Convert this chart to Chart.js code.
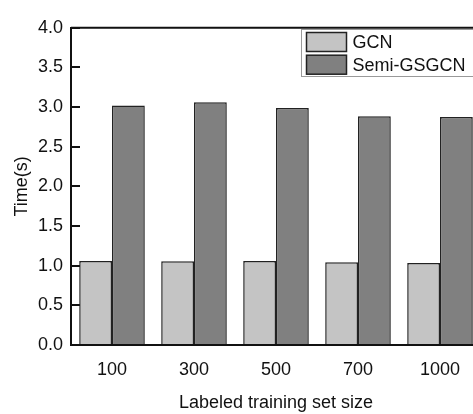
<!DOCTYPE html>
<html>
<head>
<meta charset="utf-8">
<script src="https://cdn.jsdelivr.net/npm/chart.js@4/dist/chart.umd.min.js"></script>
<style>
  html, body { margin: 0; padding: 0; background: #fff; overflow: hidden; }
  #wrap { width: 473px; height: 414px; overflow: hidden; }
</style>
</head>
<body>
<div id="wrap"><canvas id="grafico" width="490" height="414"></canvas></div>
<script>
// ── DATOS ─────────────────────────────────────────
const categorias = ['100', '300', '500', '700', '1000'];
const tiempoGCN  = [1.06, 1.055, 1.06, 1.045, 1.035];
const tiempoSemi = [3.02, 3.06, 2.99, 2.885, 2.875];
const ejeYMin = 0, ejeYMax = 4, ejeYPaso = 0.5;

const FUENTE = 'Arial, "Liberation Sans", sans-serif';

// ── MARCO (borde superior y derecho) ──────────────
const marco = {
  id: 'marco',
  afterDatasetsDraw(chart) {
    const { ctx, chartArea: a } = chart;
    ctx.save();
    ctx.strokeStyle = '#111';
    ctx.lineWidth = 2;
    ctx.beginPath();
    ctx.moveTo(a.left, a.top);
    ctx.lineTo(a.right, a.top);
    ctx.lineTo(a.right, a.bottom);
    ctx.stroke();
    ctx.restore();
  }
};

// ── LEYENDA CON RECUADRO ──────────────────────────
const leyenda = {
  id: 'leyenda',
  afterDraw(chart) {
    const { ctx } = chart;
    const x0 = 301.5, y0 = 29.5, filaH = 22.7, sw = 40, sh = 19;
    ctx.save();
    ctx.font = '18px ' + FUENTE;
    const anchos = chart.data.datasets.map(d => ctx.measureText(d.label).width);
    const w = 51 + Math.max(...anchos) + 10;
    ctx.fillStyle = '#fff';
    ctx.fillRect(x0, y0, w, 47);
    ctx.strokeStyle = '#9a9a9a';
    ctx.lineWidth = 1;
    ctx.strokeRect(x0, y0, w, 47);
    chart.data.datasets.forEach((d, i) => {
      const y = y0 + 3 + i * filaH;
      ctx.fillStyle = d.backgroundColor;
      ctx.fillRect(x0 + 5, y, sw, sh);
      ctx.strokeStyle = '#222';
      ctx.lineWidth = 1.5;
      ctx.strokeRect(x0 + 5, y, sw, sh);
      ctx.fillStyle = '#111';
      ctx.textBaseline = 'middle';
      ctx.fillText(d.label, x0 + 51, y + sh / 2 + 1);
    });
    ctx.restore();
  }
};

new Chart(document.getElementById('grafico').getContext('2d'), {
  type: 'bar',
  data: {
    labels: categorias,
    datasets: [
      { label: 'GCN', data: tiempoGCN, backgroundColor: '#c4c4c4', borderColor: '#222', borderWidth: 1.5,
        categoryPercentage: 0.8, barPercentage: 1 },
      { label: 'Semi-GSGCN', data: tiempoSemi, backgroundColor: '#808080', borderColor: '#222', borderWidth: 1.5,
        categoryPercentage: 0.8, barPercentage: 1 }
    ]
  },
  options: {
    responsive: false,
    animation: false,
    layout: { padding: { top: 16, right: 9, left: 0, bottom: 0 } },
    plugins: { legend: { display: false }, tooltip: { enabled: false } },
    scales: {
      x: {
        grid: { display: false },
        border: { display: true, color: '#111', width: 2 },
        ticks: { color: '#111', padding: 6, font: { family: FUENTE, size: 18 } },
        title: { display: true, text: 'Labeled training set size', color: '#111',
                 padding: { top: 0, bottom: 0 }, font: { family: FUENTE, size: 18 } },
        afterFit(s) { s.height = 69; }
      },
      y: {
        min: ejeYMin, max: ejeYMax,
        grid: { drawOnChartArea: false, drawTicks: true, tickLength: -9, color: '#111', lineWidth: 2 },
        border: { display: true, color: '#111', width: 2 },
        ticks: { stepSize: ejeYPaso, color: '#111', padding: 17,
                 font: { family: FUENTE, size: 18 },
                 callback: v => v.toFixed(1) },
        title: { display: true, text: 'Time(s)', color: '#111',
                 padding: { top: 11, bottom: 0 }, font: { family: FUENTE, size: 18 } },
        afterFit(s) { s.width = 71; }
      }
    }
  },
  plugins: [marco, leyenda]
});
</script>
</body>
</html>
